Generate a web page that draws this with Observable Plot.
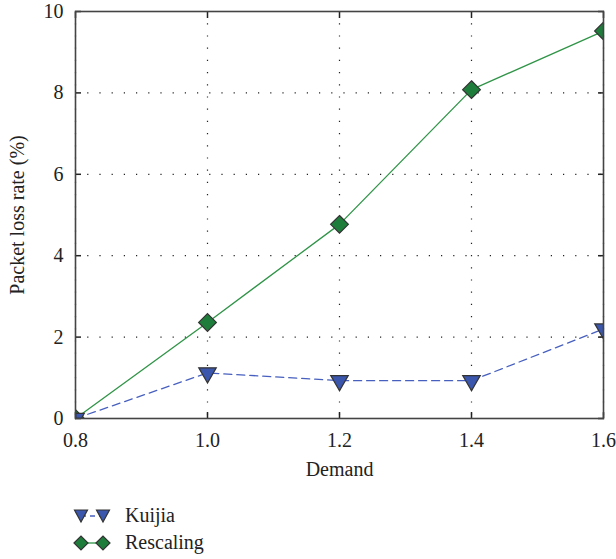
<!DOCTYPE html>
<html>
<head>
<meta charset="utf-8">
<script src="https://cdn.jsdelivr.net/npm/d3@7"></script>
<script src="https://cdn.jsdelivr.net/npm/@observablehq/plot@0.6"></script>
<style>
  body { margin: 0; background: #fff; font-family: "Liberation Serif", "DejaVu Serif", serif; }
  #chart svg { display: block; }
  #chart svg text, #chart svg g { font-family: "Liberation Serif", serif !important; font-size: 20px !important; }
  #chart svg text { fill: #222; }
  .legend { margin-left: 73px; margin-top: 22px; font-size: 20px; color: #222; }
  .legend .row { display: flex; align-items: center; height: 27px; }
  .legend svg { margin-right: 14px; }
</style>
</head>
<body>
<div id="chart"></div>
<div class="legend" id="legend"></div>
<script>
// Demand levels on the x axis
const demand = [0.8, 1.0, 1.2, 1.4, 1.6];
// Packet loss rate (%) for each scheme
const kuijia = [0.0, 1.12, 0.93, 0.93, 2.2];
const rescaling = [0.0, 2.36, 4.77, 8.08, 9.52];
const xTicks = [0.8, 1.0, 1.2, 1.4, 1.6];
const yTicks = [0, 2, 4, 6, 8, 10];

const seriesNames = ["Kuijia", "Rescaling"];
const lineColors = {Kuijia: "#4760bf", Rescaling: "#2f9447"};
const fillColors = {Kuijia: "#3a56ad", Rescaling: "#1f7d3c"};

const rows = [];
demand.forEach((d, i) => {
  rows.push({series: "Kuijia", demand: d, loss: kuijia[i]});
  rows.push({series: "Rescaling", demand: d, loss: rescaling[i]});
});
const kRows = rows.filter(r => r.series === "Kuijia");
const rRows = rows.filter(r => r.series === "Rescaling");

const plot = Plot.plot({
  width: 616,
  height: 480,
  marginLeft: 75,
  marginRight: 13,
  marginTop: 11,
  marginBottom: 62,
  style: {fontFamily: "Liberation Serif, serif", fontSize: "20px", color: "#222", background: "#fff"},
  x: {domain: [0.8, 1.6], ticks: xTicks, tickFormat: d3.format(".1f"), label: null},
  y: {domain: [0, 10], ticks: yTicks, label: null},
  marks: [
    Plot.gridX(xTicks, {stroke: "#222", strokeOpacity: 1, strokeDasharray: "1.2,11", strokeWidth: 1.2}),
    Plot.gridY(yTicks, {stroke: "#222", strokeOpacity: 1, strokeDasharray: "1.2,11", strokeWidth: 1.2}),
    Plot.line(rRows, {x: "demand", y: "loss", stroke: lineColors.Rescaling, strokeWidth: 1.3}),
    Plot.line(kRows, {x: "demand", y: "loss", stroke: lineColors.Kuijia, strokeWidth: 1.3, strokeDasharray: "8,5"}),
    Plot.dot(rRows, {x: "demand", y: "loss", symbol: "diamond2", r: 8, fill: fillColors.Rescaling, stroke: "#333", strokeWidth: 1.2, clip: true}),
    Plot.dot(kRows, {x: "demand", y: "loss", symbol: "triangle", rotate: 180, r: 6.5, fill: fillColors.Kuijia, stroke: "#333", strokeWidth: 1.2, clip: true}),
    Plot.axisX({anchor: "bottom", ticks: xTicks, tickSize: 0, tickPadding: 14, tickFormat: d3.format(".1f"), fontSize: 20, label: "Demand", labelAnchor: "center", labelArrow: "none", labelOffset: 57}),
    Plot.axisY({anchor: "left", ticks: yTicks, tickSize: 0, tickPadding: 12, fontSize: 20, label: "Packet loss rate (%)", labelAnchor: "center", labelArrow: "none", labelOffset: 66}),
    Plot.axisX({anchor: "bottom", ticks: xTicks, tickSize: -6, tickFormat: () => "", label: null, stroke: "#222", strokeWidth: 1.5}),
    Plot.axisX({anchor: "top", ticks: xTicks, tickSize: -6, tickFormat: () => "", label: null, stroke: "#222", strokeWidth: 1.5}),
    Plot.axisY({anchor: "left", ticks: yTicks, tickSize: -6, tickFormat: () => "", label: null, stroke: "#222", strokeWidth: 1.5}),
    Plot.axisY({anchor: "right", ticks: yTicks, tickSize: -6, tickFormat: () => "", label: null, stroke: "#222", strokeWidth: 1.5}),
    Plot.frame({stroke: "#444", strokeWidth: 1.6})
  ]
});
document.getElementById("chart").append(plot);

// Legend: symbol-line-symbol swatch per series
const legend = d3.select("#legend");
seriesNames.forEach(name => {
  const row = legend.append("div").attr("class", "row");
  const svg = row.append("svg").attr("width", 38).attr("height", 22);
  svg.append("line").attr("x1", 8).attr("x2", 30).attr("y1", 11).attr("y2", 11)
    .attr("stroke", lineColors[name]).attr("stroke-width", 1.3)
    .attr("stroke-dasharray", name === "Kuijia" ? "5,4" : null);
  [8, 30].forEach(cx => {
    if (name === "Kuijia") {
      svg.append("path").attr("d", `M${cx - 6.5},${5} L${cx + 6.5},${5} L${cx},${17} Z`)
        .attr("fill", fillColors[name]).attr("stroke", "#333").attr("stroke-width", 1.2);
    } else {
      svg.append("path").attr("d", `M${cx - 7},11 L${cx},4 L${cx + 7},11 L${cx},18 Z`)
        .attr("fill", fillColors[name]).attr("stroke", "#333").attr("stroke-width", 1.2);
    }
  });
  row.append("span").text(name);
});
</script>
</body>
</html>
